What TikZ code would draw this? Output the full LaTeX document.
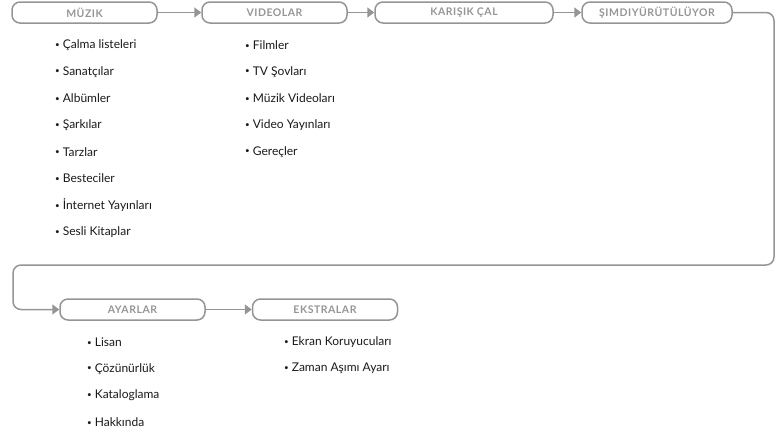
\documentclass[tikz,border=0pt]{standalone}
\usepackage{fontspec}
\setmainfont{Lato}
\usetikzlibrary{arrows.meta,positioning}
\definecolor{menugray}{HTML}{959595}
\definecolor{itemgray}{HTML}{1A1A1A}
\newcommand{\dotmark}{{\fontsize{8}{8}\selectfont\raisebox{1.2pt}{•}}\hspace{3pt}}

\begin{document}
\begin{tikzpicture}[x=1pt,y=-1pt,
    menu/.style={draw=menugray,line width=1.5pt,rounded corners=8pt,
      minimum height=21pt,inner sep=0pt,text=menugray,
      font=\fontsize{10.5}{12}\selectfont\bfseries\addfontfeatures{LetterSpace=5}},
    link/.style={draw=menugray,line width=1.5pt,-{Triangle[length=7pt,width=10pt]}},
    entry/.style={anchor=west,inner sep=0pt,text=itemgray,
      font=\fontsize{12}{14}\selectfont}
  ]
  \useasboundingbox (0,0) rectangle (775,431);
  % menu row 1
  \node[menu,minimum width=145pt] (muzik) at (84.5,12.5) {MÜZIK};
  \node[menu,minimum width=145pt] (videolar) at (274.5,12.5) {VIDEOLAR};
  \node[menu,minimum width=178pt] (karisik) at (464,12.5) {KARIŞIK ÇAL};
  \node[menu,minimum width=150pt] (simdi) at (657,12.5) {ŞIMDIYÜRÜTÜLÜYOR};
  % menu row 2
  \node[menu,minimum width=145pt] (ayarlar) at (132.5,309.5) {AYARLAR};
  \node[menu,minimum width=145pt] (ekstralar) at (325,309.5) {EKSTRALAR};
  \coordinate (c1) at (774,12.5);
  \coordinate (c2) at (774,265);
  \coordinate (c3) at (13,265);
  \coordinate (c4) at (13,309.5);
  \draw[link] (muzik) -- (videolar);
  \draw[link] (videolar) -- (karisik);
  \draw[link] (karisik) -- (simdi);
  \draw[link,rounded corners=8pt] (simdi) -- (c1) -- (c2) -- (c3) -- (c4) -- (ayarlar);
  \draw[link] (ayarlar) -- (ekstralar);
  % lists
  \foreach \t [count=\i] in {Çalma listeleri,Sanatçılar,Albümler,Şarkılar,
      Tarzlar,Besteciler,İnternet Yayınları,Sesli Kitaplar}
    \node[entry] (m\i) at (55,{45+26.7*(\i-1)}) {\dotmark\t};
  \foreach \t [count=\i] in {Filmler,TV Şovları,Müzik Videoları,
      Video Yayınları,Gereçler}
    \node[entry] (v\i) at (245,{45+26.7*(\i-1)}) {\dotmark\t};
  \foreach \t [count=\i] in {Lisan,Çözünürlük,Kataloglama,Hakkında}
    \node[entry] (a\i) at (87,{342+26.7*(\i-1)}) {\dotmark\t};
  \foreach \t [count=\i] in {Ekran Koruyucuları,Zaman Aşımı Ayarı}
    \node[entry] (e\i) at (284,{342+26.7*(\i-1)}) {\dotmark\t};
\end{tikzpicture}
\end{document}
